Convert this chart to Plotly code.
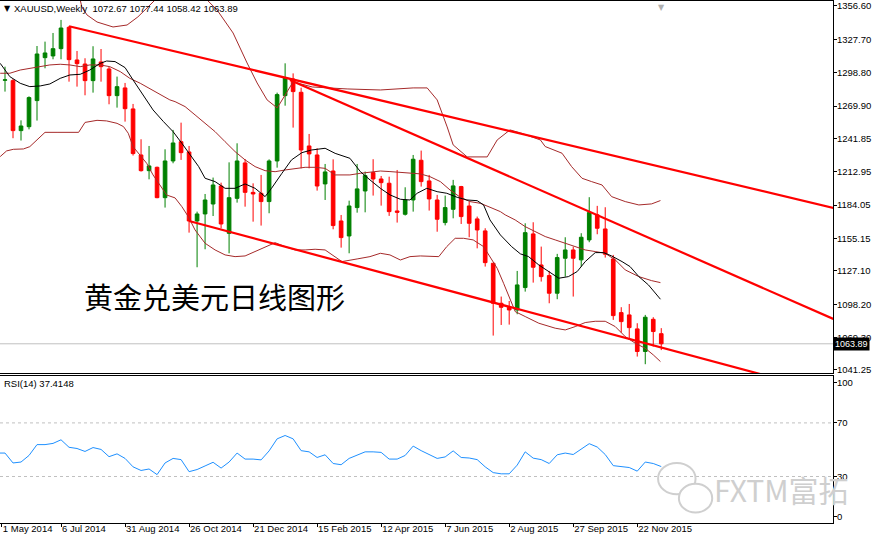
import plotly.graph_objects as go

# weekly XAUUSD bars (bar index 0 = first visible week)
opens = [1292.2, 1291.9, 1248.6, 1252.0, 1274.6, 1311.8, 1313.3, 1319.6, 1338.1, 1309.8,
         1306.3, 1291.9, 1308.1, 1302.0, 1278.9, 1285.6, 1267.4, 1227.5, 1213.9, 1216.8,
         1190.5, 1222.3, 1239.0, 1230.1, 1170.3, 1176.4, 1185.0, 1200.6, 1159.6, 1189.9,
         1220.6, 1195.1, 1194.3, 1187.1, 1222.3, 1278.9, 1293.3, 1281.8, 1235.3, 1227.5,
         1202.4, 1213.6, 1170.3, 1157.3, 1181.9, 1196.3, 1212.2, 1206.7, 1203.0, 1179.0,
         1176.1, 1188.5, 1222.9, 1205.0, 1188.5, 1168.9, 1180.4, 1200.1, 1183.3, 1172.1,
         1161.7, 1133.7, 1099.0, 1095.5, 1093.2, 1112.6, 1159.1, 1132.2, 1123.0, 1107.7,
         1138.0, 1145.2, 1136.6, 1153.9, 1175.6, 1163.4, 1137.4, 1090.9, 1088.9, 1076.8,
         1057.2, 1085.1, 1072.67]
highs = [1304.0, 1293.3, 1257.5, 1278.3, 1321.9, 1325.7, 1333.2, 1344.5, 1339.3, 1317.6,
         1311.3, 1321.7, 1319.3, 1304.0, 1295.4, 1289.9, 1271.7, 1241.1, 1235.3, 1217.4,
         1232.4, 1249.2, 1255.5, 1235.3, 1178.4, 1193.7, 1207.9, 1203.5, 1221.1, 1237.6,
         1224.0, 1202.9, 1210.2, 1223.7, 1281.5, 1306.9, 1298.2, 1285.8, 1245.7, 1233.3,
         1219.7, 1223.7, 1175.5, 1187.9, 1219.7, 1213.1, 1223.8, 1209.3, 1208.7, 1214.5,
         1199.5, 1227.5, 1231.3, 1210.2, 1192.9, 1192.3, 1205.9, 1200.7, 1187.1, 1174.1,
         1164.0, 1133.7, 1104.8, 1101.0, 1127.0, 1168.3, 1169.2, 1148.1, 1127.0, 1141.8,
         1156.2, 1148.1, 1159.7, 1190.9, 1183.4, 1182.2, 1140.9, 1095.6, 1098.4, 1081.7,
         1088.9, 1086.9, 1077.44]
lows = [1282.4, 1242.0, 1240.0, 1249.7, 1257.3, 1302.6, 1310.4, 1310.4, 1291.0, 1286.7,
        1279.2, 1281.5, 1291.0, 1271.4, 1268.5, 1256.4, 1227.0, 1213.1, 1206.4, 1190.0,
        1181.9, 1220.3, 1223.2, 1160.2, 1130.2, 1145.8, 1174.6, 1164.0, 1142.3, 1186.2,
        1182.7, 1169.7, 1166.3, 1177.0, 1216.5, 1270.2, 1251.2, 1215.9, 1215.9, 1196.6,
        1188.5, 1163.1, 1147.2, 1142.3, 1177.5, 1177.8, 1192.3, 1183.6, 1174.7, 1168.9,
        1175.0, 1178.4, 1200.1, 1179.3, 1161.0, 1166.5, 1172.6, 1167.7, 1156.2, 1146.6,
        1130.8, 1071.0, 1080.2, 1080.5, 1089.5, 1109.1, 1116.9, 1117.8, 1099.0, 1102.5,
        1122.1, 1104.8, 1130.8, 1151.9, 1158.8, 1138.6, 1084.6, 1073.6, 1067.3, 1052.8,
        1046.2, 1061.5, 1058.42]
closes = [1292.6, 1248.6, 1252.6, 1277.2, 1315.0, 1315.9, 1319.6, 1337.5, 1310.1, 1306.6,
          1291.9, 1310.7, 1304.0, 1278.9, 1286.7, 1267.6, 1228.7, 1213.9, 1218.0, 1190.5,
          1222.3, 1237.9, 1229.5, 1170.3, 1176.4, 1188.5, 1201.5, 1167.7, 1190.5, 1222.3,
          1195.1, 1193.7, 1187.1, 1222.3, 1279.8, 1294.5, 1282.4, 1231.8, 1228.4, 1200.6,
          1212.8, 1166.3, 1155.9, 1183.3, 1198.1, 1209.6, 1206.7, 1203.5, 1178.4, 1177.8,
          1188.5, 1223.8, 1204.4, 1189.4, 1171.8, 1181.9, 1200.7, 1174.1, 1168.3, 1162.5,
          1134.2, 1099.0, 1095.5, 1093.2, 1114.9, 1160.2, 1130.2, 1122.1, 1107.7, 1138.6,
          1145.2, 1138.0, 1156.2, 1177.6, 1164.0, 1141.5, 1088.3, 1083.1, 1077.9, 1057.2,
          1086.9, 1074.5, 1063.89]
bars = list(range(len(closes)))

# moving average (black), sampled along the line
ma_x = [-0.6, 0.6, 1.9, 3.1, 4.4, 5.6, 6.9, 8.1, 9.4, 10.6, 11.9, 12.7, 13.75, 15, 16, 17.3,
        18.5, 19.8, 21, 22.1, 23.3, 24.2, 25, 26.25, 27.5, 28.75, 30, 31.25, 32.5, 33.3, 34.6,
        35.8, 37.1, 38.3, 40, 41.25, 43.1, 44.4, 45.6, 46.9, 48.1, 49.4, 50.6, 51.5, 52.7, 54,
        55.2, 56.5, 57.7, 59, 59.8, 60.6, 61.9, 62.5, 63.3, 64.4, 65.4, 66.7, 67.9, 69.2, 70.4,
        71.5, 72.5, 73.75, 74.8, 75.8, 77.1, 78.1, 79.2, 80.4, 81.9]
ma_y = [1306.9, 1295.4, 1289.6, 1286.7, 1287.3, 1289.0, 1293.9, 1296.8, 1297.4, 1301.1,
        1306.9, 1308.9, 1308.4, 1303.2, 1292.5, 1279.5, 1266.5, 1256.4, 1247.7, 1237.6,
        1226.0, 1217.4, 1207.3, 1204.4, 1198.6, 1198.6, 1202.4, 1198.6, 1191.4, 1198.6,
        1211.6, 1223.2, 1229.5, 1231.8, 1233.3, 1228.9, 1224.6, 1213.1, 1205.9, 1198.6,
        1192.9, 1189.1, 1188.5, 1194.3, 1198.6, 1195.7, 1194.3, 1190.8, 1188.5, 1187.9,
        1184.2, 1171.2, 1158.2, 1153.9, 1148.1, 1141.8, 1139.5, 1132.2, 1126.5, 1120.7,
        1122.1, 1126.5, 1135.1, 1142.9, 1142.9, 1140.0, 1135.1, 1130.8, 1122.1, 1114.9, 1102.5]

# Bollinger bands (brown)
bb_mid_x = [-0.6, 0.6, 1.9, 3.1, 4.4, 5.6, 6.9, 8.1, 9.4, 10.6, 11.9, 13.1, 14.4, 15.6, 16.9,
            18.1, 19.4, 20.6, 21.25, 22.5, 23.75, 25, 26.25, 27.5, 28.75, 30, 31.25, 32.5,
            33.75, 35, 36.25, 37.5, 38.75, 40, 41.25, 43.1, 44.4, 45.6, 46.9, 48.1, 49.4, 50.6,
            51.9, 53.1, 54.4, 55.6, 56.9, 58.1, 59.4, 60.6, 61.9, 62.5, 63.75, 65, 66.25, 67.5,
            68.75, 70, 71.25, 72.5, 73.75, 75, 76.25, 77.5, 79.2, 80.8, 81.9]
bb_mid_y = [1298.3, 1298.3, 1301.1, 1302.6, 1304.0, 1305.5, 1306.1, 1305.5, 1304.0, 1305.5,
            1305.5, 1304.0, 1299.7, 1293.9, 1289.6, 1284.7, 1279.5, 1275.2, 1273.7, 1269.4,
            1262.2, 1254.9, 1247.7, 1239.0, 1230.4, 1223.2, 1217.4, 1213.9, 1213.0, 1214.5,
            1215.9, 1216.8, 1216.8, 1215.9, 1210.2, 1210.2, 1211.6, 1212.5, 1213.6, 1213.1,
            1212.2, 1211.6, 1211.1, 1208.7, 1204.4, 1197.2, 1190.8, 1187.1, 1185.6, 1182.2,
            1178.4, 1175.6, 1171.2, 1165.4, 1161.1, 1156.8, 1153.9, 1151.0, 1148.1, 1145.2,
            1143.8, 1142.3, 1136.6, 1127.9, 1122.1, 1118.6, 1116.9]
bb_up_x = [-0.6, 4, 8, 9.4, 9.6, 10.25, 11.5, 13.5, 15.25, 16.6, 17.75, 18.75, 20, 22.5, 24.5,
           25.25, 26.5, 28.5, 30.25, 31.5, 32.75, 34, 34.4, 35.2, 36, 38.4, 42.75, 46.9, 51,
           52.75, 54, 55.25, 56, 57.75, 60.25, 61.5, 63.1, 64.4, 66.9, 67.5, 69.6, 70.8, 72.1,
           73.3, 74.6, 75.8, 77.5, 79.2, 80.8, 81.9]
bb_up_y = [1375.0, 1380.0, 1372.0, 1361.8, 1355.7, 1348.8, 1342.7, 1338.4, 1340.1, 1347.1,
           1354.9, 1361.8, 1372.0, 1378.0, 1370.0, 1361.8, 1353.1, 1333.2, 1307.2, 1289.9,
           1275.2, 1268.3, 1272.6, 1281.2, 1290.8, 1286.4, 1284.7, 1283.8, 1285.6, 1285.6,
           1275.2, 1251.8, 1236.2, 1225.8, 1225.8, 1240.5, 1249.2, 1246.6, 1240.5, 1234.8,
           1229.0, 1217.4, 1207.3, 1204.4, 1201.5, 1191.4, 1187.1, 1184.2, 1185.1, 1188.0]
bb_lo_x = [-0.6, 0.2, 1.04, 2.3, 3.1, 4.0, 5.0, 6.5, 9.2, 10.0, 11.5, 12.7, 14.0, 14.8, 15.4,
           16.0, 16.9, 17.7, 18.5, 19.4, 20.2, 21.25, 22.1, 22.9, 23.75, 25, 26.25, 27.5, 28.75,
           30, 31.25, 32.5, 33.75, 35, 36.25, 37.5, 38.75, 40, 41.25, 42.1, 44, 45.6, 46.9,
           48.1, 49.4, 50.6, 51.9, 54.2, 55.2, 56.25, 57.3, 58.5, 59.8, 60.6, 61.5, 62.3, 63.1,
           63.75, 65, 66.7, 68.75, 70, 71.25, 72.5, 73.75, 75, 76.25, 77.5, 78.75, 80, 81.0, 81.9]
bb_lo_y = [1226.1, 1231.0, 1232.4, 1232.7, 1234.7, 1240.5, 1247.1, 1247.1, 1247.1, 1255.7,
           1257.5, 1257.0, 1254.9, 1252.1, 1246.3, 1234.7, 1227.5, 1220.3, 1210.2, 1201.5,
           1192.8, 1190.3, 1182.7, 1174.1, 1162.5, 1151.0, 1145.2, 1140.9, 1139.4, 1140.0,
           1143.7, 1148.1, 1151.5, 1148.1, 1145.2, 1145.2, 1145.8, 1145.2, 1139.4, 1135.1,
           1137.4, 1139.4, 1142.3, 1140.9, 1136.5, 1139.4, 1140.0, 1139.4, 1148.1, 1155.3,
           1155.3, 1153.9, 1148.1, 1139.4, 1129.3, 1116.3, 1101.9, 1091.8, 1087.5, 1081.7,
           1077.4, 1075.9, 1078.8, 1082.3, 1083.4, 1083.4, 1078.8, 1070.1, 1064.4, 1060.0,
           1054.3, 1048.5]

# hand-drawn trend lines: (start bar, start price, end bar, end price)
trend_lines = [
    (8, 1339.0, 103.5, 1181.6),
    (35.6, 1292.5, 103.5, 1085.4),
    (23, 1170.3, 103.5, 1020.7),
]

rsi_x = [-1] + bars
rsi = [47.5, 47.5, 40.1, 40.8, 45.7, 53.8, 53.8, 54.7, 57.4, 51.8, 50.9,
       48.7, 51.6, 50.2, 44.8, 46.9, 43.5, 37.2, 34.5, 35.6, 31.4,
       40.1, 43.5, 42.6, 33.6, 35.2, 37.9, 40.6, 36.3, 40.8, 47.5,
       43.0, 43.0, 42.4, 49.1, 58.1, 60.6, 58.1, 49.3, 48.4, 44.2,
       46.2, 39.7, 38.8, 43.5, 46.2, 48.4, 48.4, 48.0, 43.0, 43.0,
       45.7, 52.7, 49.3, 46.6, 43.5, 44.6, 49.1, 44.2, 43.8, 42.6,
       37.2, 32.9, 32.0, 32.0, 38.5, 48.4, 43.7, 42.6, 39.7, 46.2,
       47.5, 46.4, 50.2, 54.5, 52.0, 46.4, 38.1, 37.2, 36.7, 34.0,
       40.8, 39.7, 37.4148]

price_ticks = [1356.60, 1327.70, 1298.80, 1269.90, 1241.85, 1212.95, 1184.05, 1155.15,
               1127.10, 1098.20, 1069.30, 1041.25]
date_tick_bars = [-0.4, 7, 15, 23, 31, 39, 47, 55, 63, 71, 79]
date_tick_labels = ['1 May 2014', '6 Jul 2014', '31 Aug 2014', '26 Oct 2014', '21 Dec 2014',
                    '15 Feb 2015', '12 Apr 2015', '7 Jun 2015', '2 Aug 2015', '27 Sep 2015',
                    '22 Nov 2015']
rsi_ticks = [0, 30, 70, 100]
rsi_levels = [70, 30]

FONT = 'Liberation Sans'
BROWN = '#a52a2a'

fig = go.Figure()

for xs, ys in [(bb_up_x, bb_up_y), (bb_mid_x, bb_mid_y), (bb_lo_x, bb_lo_y)]:
    fig.add_trace(go.Scatter(x=xs, y=ys, mode='lines', line=dict(color=BROWN, width=1),
                             hoverinfo='skip'))
fig.add_trace(go.Scatter(x=ma_x, y=ma_y, mode='lines', line=dict(color='black', width=1),
                         hoverinfo='skip'))

fig.add_trace(go.Candlestick(
    x=bars, open=opens, high=highs, low=lows, close=closes,
    increasing=dict(line=dict(color='#008000', width=1), fillcolor='#008000'),
    decreasing=dict(line=dict(color='#ff0000', width=1), fillcolor='#ff0000'),
    whiskerwidth=0, hoverinfo='none'))

for x0, y0, x1, y1 in trend_lines:
    fig.add_trace(go.Scatter(x=[x0, x1], y=[y0, y1], mode='lines',
                             line=dict(color='#ff0000', width=2.2), hoverinfo='skip'))

fig.add_trace(go.Scatter(x=rsi_x, y=rsi, mode='lines', line=dict(color='#1e90ff', width=1),
                         xaxis='x2', yaxis='y2', hoverinfo='skip'))

# current price line
fig.add_shape(type='line', xref='x domain', x0=0, x1=1, yref='y', y0=closes[-1], y1=closes[-1],
              line=dict(color='#c0c0c0', width=1), layer='below')
for lv in rsi_levels:
    fig.add_shape(type='line', xref='x2 domain', x0=0, x1=1, yref='y2', y0=lv, y1=lv,
                  line=dict(color='#c0c0c0', width=1, dash='3px,3px'), layer='below')

xrange = [-0.625, 103.46]
axis_common = dict(showgrid=False, zeroline=False, showline=True, linecolor='black', linewidth=1,
                   automargin=False, tickfont=dict(family=FONT, size=9.5, color='black'))

fig.update_layout(
    width=877, height=538,
    margin=dict(l=0, r=44, t=1, b=15, autoexpand=False),
    paper_bgcolor='white', plot_bgcolor='white',
    showlegend=False, boxgap=0.35,
    xaxis=dict(domain=[0, 1], range=xrange, anchor='y', showticklabels=False, mirror=True,
               rangeslider=dict(visible=False), **axis_common),
    yaxis=dict(domain=[0.2874, 1], range=[1038.6, 1360.9], side='right', anchor='x',
               tickvals=price_ticks, ticktext=['%.2f' % v for v in price_ticks],
               ticks='outside', ticklen=3, tickcolor='black', ticklabelstandoff=-2,
               **axis_common),
    xaxis2=dict(domain=[0, 1], range=xrange, anchor='y2', mirror=True,
                tickvals=date_tick_bars, ticktext=date_tick_labels, tickangle=0,
                ticks='outside', ticklen=3, tickcolor='black', ticklabelstandoff=-3,
                ticklabelposition='outside right', **axis_common),
    yaxis2=dict(domain=[0, 0.2816], range=[-4.7, 105], side='right', anchor='x2',
                tickvals=rsi_ticks, ticks='outside', ticklen=3, tickcolor='black',
                ticklabelstandoff=-2, **axis_common),
)

annotations = [
    dict(x=0.002, y=0.9847, xref='paper', yref='paper', text='▼', showarrow=False,
         xanchor='left', yanchor='middle', font=dict(family='DejaVu Sans', size=8, color='black')),
    dict(x=0.0144, y=0.9847, xref='paper', yref='paper',
         text='XAUUSD,Weekly  %.2f %.2f %.2f %.2f' % (opens[-1], highs[-1], lows[-1], closes[-1]),
         showarrow=False, xanchor='left', yanchor='middle',
         font=dict(family=FONT, size=9.5, color='black')),
    dict(x=0.002, y=0.2663, xref='paper', yref='paper', text='RSI(14) %.4f' % rsi[-1],
         showarrow=False, xanchor='left', yanchor='middle',
         font=dict(family=FONT, size=9.5, color='black')),
    dict(x=1, y=closes[-1], xref='paper', yref='y', text='%.2f' % closes[-1], showarrow=False,
         xanchor='left', yanchor='middle', bgcolor='black', borderpad=1,
         font=dict(family=FONT, size=9, color='white')),
    dict(x=82, y=1, xref='x', yref='paper', text='▼', showarrow=False, yanchor='top',
         font=dict(family='DejaVu Sans', size=8, color='#b0b0b0')),
    dict(x=0.0984, y=0.4349, xref='paper', yref='paper', text='黄金兑美元日线图形',
         showarrow=False, xanchor='left', yanchor='middle',
         font=dict(family='Noto Sans CJK SC', size=29, color='black')),
    dict(x=0.855, y=0.066, xref='paper', yref='paper', text='FXTM富拓', showarrow=False,
         xanchor='left', yanchor='middle',
         font=dict(family='Noto Sans CJK SC', size=30, color='#cfcfcf')),
]
fig.update_layout(annotations=annotations)

# speech-bubble watermark icon
fig.add_shape(type='circle', xref='paper', yref='paper', x0=0.79, x1=0.835, y0=0.055, y1=0.115,
              line=dict(color='#cfcfcf', width=2))
fig.add_shape(type='circle', xref='paper', yref='paper', x0=0.815, x1=0.855, y0=0.02, y1=0.075,
              line=dict(color='#cfcfcf', width=2), fillcolor='white')

# the page body has a default 8px margin; drop it so the figure sits at the window corner
fig.write_html('out.html', config={'displayModeBar': False},
               post_script="document.body.style.margin='0';")
